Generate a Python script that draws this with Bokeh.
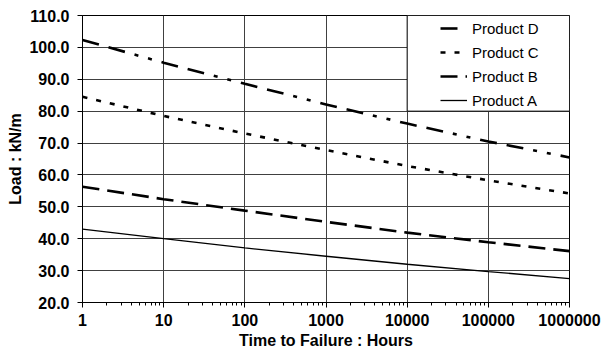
from bokeh.plotting import figure
from bokeh.models import (FixedTicker, NumeralTickFormatter, Legend, LegendItem,
                          Range1d)
from bokeh.embed import file_html
from bokeh.resources import INLINE

# ---- data ----
hours = [1, 10, 100, 1000, 10000, 100000, 1000000]
product_a = [43.0, 40.0, 37.1, 34.5, 32.0, 29.7, 27.5]
product_b = [56.3, 52.4, 48.8, 45.3, 41.9, 38.9, 36.1]
product_c = [84.5, 78.5, 73.0, 67.8, 62.8, 58.3, 54.2]
product_d = [102.3, 95.2, 88.6, 82.1, 76.1, 70.5, 65.5]
x_ticks = [1, 10, 100, 1000, 10000, 100000, 1000000]
y_ticks = [20, 30, 40, 50, 60, 70, 80, 90, 100, 110]

FONT = "Liberation Sans"

p = figure(width=610, height=358, x_axis_type="log",
           x_range=Range1d(1, 1000000), y_range=Range1d(20, 110),
           output_backend="svg", toolbar_location=None,
           min_border_left=82, min_border_right=41,
           min_border_top=15, min_border_bottom=56)
p.background_fill_color = "white"
p.border_fill_color = "white"
p.outline_line_color = "black"
p.outline_line_width = 1

minor = [m * 10 ** e for e in range(6) for m in range(2, 10)]
p.xaxis.ticker = FixedTicker(ticks=x_ticks, minor_ticks=minor)
p.yaxis.ticker = FixedTicker(ticks=y_ticks, minor_ticks=[])
p.xaxis.formatter = NumeralTickFormatter(format="0")
p.yaxis.formatter = NumeralTickFormatter(format="0.0")

for ax in (p.xaxis[0], p.yaxis[0]):
    ax.axis_line_color = "black"
    ax.major_tick_line_color = "black"
    ax.minor_tick_line_color = "black"
    ax.major_tick_in = 0
    ax.major_tick_out = 5
    ax.minor_tick_in = 0
    ax.minor_tick_out = 3
    ax.major_label_text_font = FONT
    ax.major_label_text_font_style = "bold"
    ax.major_label_text_font_size = "16px"
    ax.major_label_text_color = "black"
    ax.axis_label_text_font = FONT
    ax.axis_label_text_font_style = "bold"
    ax.axis_label_text_font_size = "16px"
    ax.axis_label_text_color = "black"

p.xaxis.axis_label = "Time to Failure : Hours"
p.yaxis.axis_label = "Load : kN/m"
p.xaxis.major_label_standoff = 6
p.xaxis.axis_label_standoff = 3
p.yaxis.major_label_standoff = 8
p.yaxis.axis_label_standoff = 2

p.xgrid.grid_line_color = "#404040"
p.ygrid.grid_line_color = "#404040"
p.xgrid.grid_line_width = 1
p.ygrid.grid_line_width = 1

ra = p.line(hours, product_a, line_color="black", line_width=1.3)
rb = p.line(hours, product_b, line_color="black", line_width=2.6, line_dash="17 8")
rc = p.line(hours, product_c, line_color="black", line_width=2.6, line_dash="5 9")
rd = p.line(hours, product_d, line_color="black", line_width=2.6,
            line_dash="17 10 17 10 4 10 4 10")

# legend frame: it occupies the grid block 1e4..1e6 x 80..110 in the original
p.quad(left=[10000], right=[1000000], bottom=[80], top=[110],
       fill_color="white", fill_alpha=1.0, line_color="black", line_width=1)

legend = Legend(items=[LegendItem(label="Product D", renderers=[rd]),
                       LegendItem(label="Product C", renderers=[rc]),
                       LegendItem(label="Product B", renderers=[rb]),
                       LegendItem(label="Product A", renderers=[ra])],
                location=(358, 193), padding=0, margin=0,
                glyph_width=27, glyph_height=18, label_height=18,
                spacing=6, label_standoff=5,
                label_text_font=FONT, label_text_font_size="15px",
                label_text_color="black",
                background_fill_alpha=0, border_line_alpha=0)
p.add_layout(legend)

open("out.html", "w").write(file_html(p, INLINE))
